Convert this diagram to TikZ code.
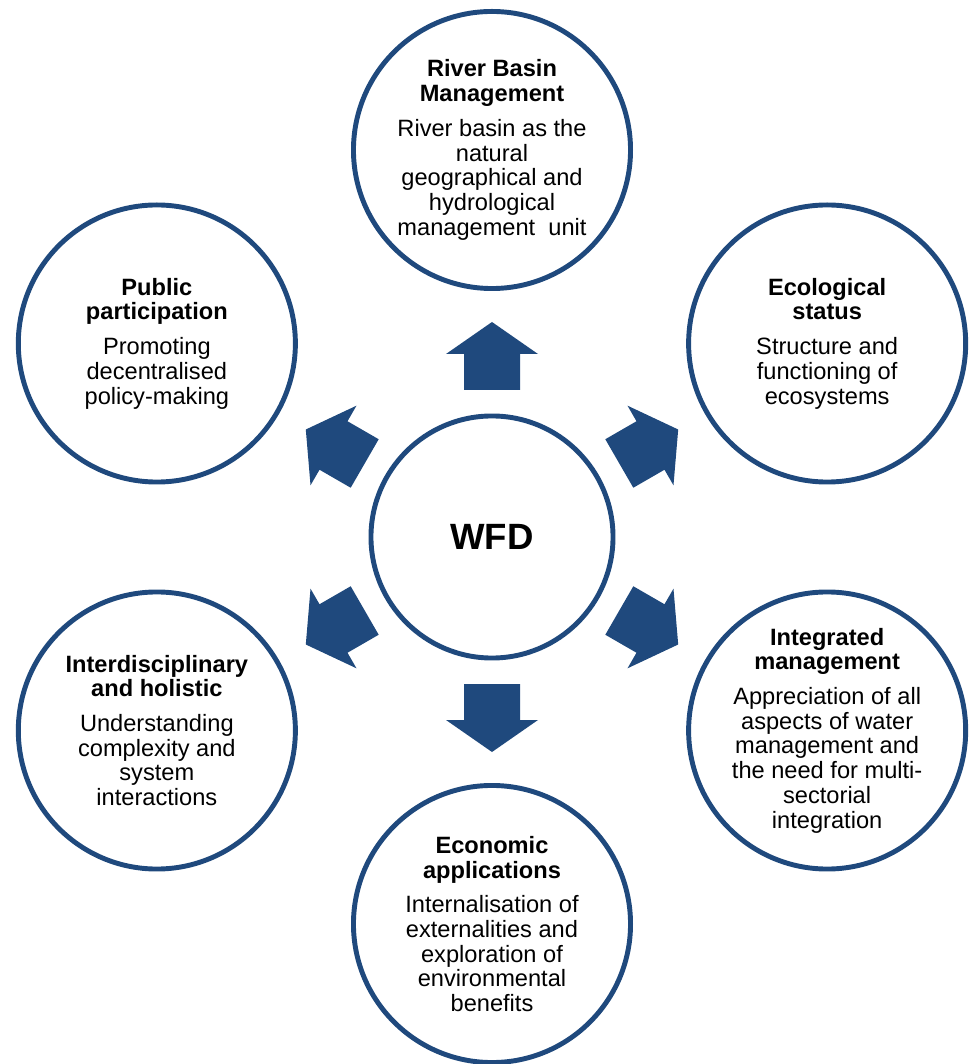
\documentclass[tikz,border=0pt]{standalone}
\usepackage{fontspec}
\setmainfont{Liberation Sans}
\usepackage{tikz}
\definecolor{wfdblue}{RGB}{31,73,125}

\begin{document}
\begin{tikzpicture}[x=0.025cm,y=0.025cm,
    topic/.style={circle,draw=wfdblue,line width=3.5pt,minimum size=6.925cm,
      inner sep=-8pt,align=center,font=\fontsize{16.8}{17.6}\selectfont},
    hub/.style={circle,draw=wfdblue,line width=3.5pt,minimum size=6.05cm,
      font=\bfseries\fontsize{26}{30}\selectfont},
    blockarrow/.style={fill=wfdblue}]
  \useasboundingbox (-492,-527) rectangle (480,537);

  \node[hub] (wfd) at (0,0) {WFD};

  \node[topic] (rbm) at (90:387) {\textbf{River Basin}\\\textbf{Management}\\[7pt]
    River basin as the\\natural\\geographical and\\hydrological\\management\ \ unit};
  \node[topic] (eco) at (30:387) {\textbf{Ecological}\\\textbf{status}\\[7pt]
    Structure and\\functioning of\\ecosystems};
  \node[topic] (integ) at (-30:387) {\textbf{Integrated}\\\textbf{management}\\[7pt]
    Appreciation of all\\aspects of water\\management and\\the need for multi-\\sectorial\\integration};
  \node[topic] (econ) at (-90:387) {\textbf{Economic}\\\textbf{applications}\\[7pt]
    Internalisation of\\externalities and\\exploration of\\environmental\\benefits};
  \node[topic] (inter) at (-150:387) {\textbf{Interdisciplinary}\\\textbf{and holistic}\\[7pt]
    Understanding\\complexity and\\system\\interactions};
  \node[topic] (pub) at (150:387) {\textbf{Public}\\\textbf{participation}\\[7pt]
    Promoting\\decentralised\\policy-making};

  \foreach \a in {90,30,-30,-90,-150,150}
    \fill[blockarrow,shift={(wfd.center)},rotate=\a]
      (147,-28) -- (183,-28) -- (183,-46) -- (215,0) -- (183,46) -- (183,28) -- (147,28) -- cycle;
\end{tikzpicture}
\end{document}
